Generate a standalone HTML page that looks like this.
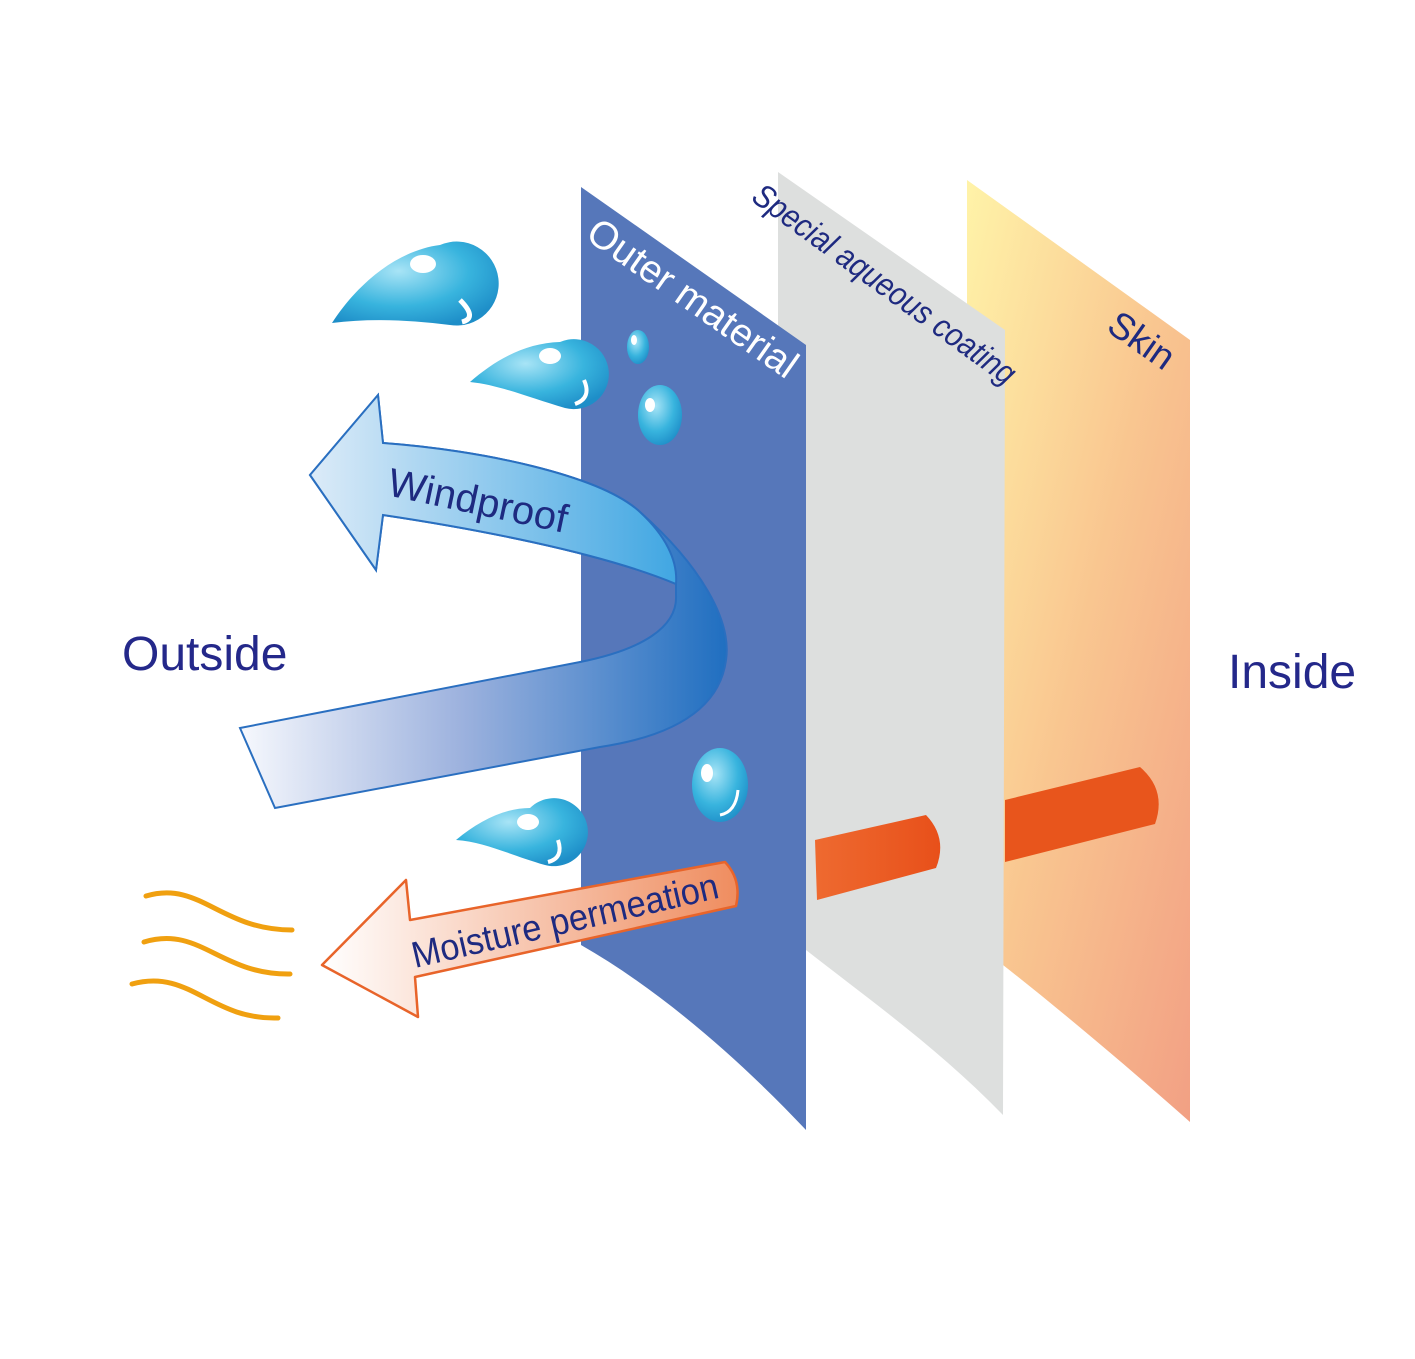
<!DOCTYPE html>
<html><head><meta charset="utf-8"><style>html,body{margin:0;padding:0;background:#fff}svg{display:block}</style></head>
<body>
<svg width="1415" height="1359" viewBox="0 0 1415 1359" xmlns="http://www.w3.org/2000/svg" font-family="Liberation Sans, DejaVu Sans, sans-serif">
<defs>
<linearGradient id="skin" x1="0" y1="0" x2="1" y2="1"><stop offset="0" stop-color="#FFF3A8"/><stop offset="0.5" stop-color="#F9C690"/><stop offset="1" stop-color="#F2A084"/></linearGradient>
<linearGradient id="wind" x1="240" y1="0" x2="730" y2="0" gradientUnits="userSpaceOnUse"><stop offset="0" stop-color="#F6F8FD"/><stop offset="0.45" stop-color="#9DB2DE"/><stop offset="1" stop-color="#1E6EC0"/></linearGradient>
<linearGradient id="windtop" x1="310" y1="0" x2="680" y2="0" gradientUnits="userSpaceOnUse"><stop offset="0" stop-color="#DCEBF8"/><stop offset="1" stop-color="#3FA6E2"/></linearGradient>
<linearGradient id="moist" x1="322" y1="0" x2="740" y2="0" gradientUnits="userSpaceOnUse"><stop offset="0" stop-color="#FFFFFF"/><stop offset="1" stop-color="#EF8C5E"/></linearGradient>
<linearGradient id="bar" x1="0" y1="0" x2="1" y2="0"><stop offset="0" stop-color="#EE6A30"/><stop offset="1" stop-color="#E8501A"/></linearGradient>
<radialGradient id="drop" cx="0.4" cy="0.35" r="0.7"><stop offset="0" stop-color="#A8E4F6"/><stop offset="0.6" stop-color="#38B4DE"/><stop offset="1" stop-color="#1E8EC8"/></radialGradient>
</defs>

<path d="M967,180 L1190,340 L1190,1122 C1120,1060 1060,1010 1003,965 L1003,860 L967,860 Z" fill="url(#skin)"/>
<path d="M778,172 L1005,330 L1003,1115 C940,1050 870,1000 806,950 L806,400 L778,400 Z" fill="#DDDFDE"/>
<path d="M581,187 L806,345 L806,1130 C740,1060 660,990 581,945 Z" fill="#5677BA"/>

<text transform="translate(584,238) rotate(35)" font-size="39" fill="#fff">Outer material</text>
<text transform="translate(750,200) rotate(36) scale(0.88,1)" font-size="33" fill="#1E2A80" font-style="italic">Special aqueous coating</text>
<text transform="translate(1105,330) rotate(35)" font-size="37" fill="#1E2A80">Skin</text>

<path d="M815,840 L926,815 Q948,838 936,868 L817,900 Z" fill="url(#bar)"/>
<path d="M1005,800 L1140,767 Q1167,790 1155,824 L1005,862 Z" fill="#E8551C"/>

<path d="M310,475 L378,395 L383,443 C480,450 600,475 640,512 C700,565 732,620 726,660 C720,705 680,735 600,747 L275,808 L240,728 L580,662 C640,650 678,628 676,595 L676,584 C600,552 470,528 383,515 L376,570 Z" fill="url(#wind)" stroke="#2A6FC0" stroke-width="2"/>
<path d="M310,475 L378,395 L383,443 C480,450 600,475 640,512 C665,535 678,560 676,584 C600,552 470,528 383,515 L376,570 Z" fill="url(#windtop)" stroke="#2A6FC0" stroke-width="2"/>
<text transform="translate(386,495) rotate(12)" font-size="40" fill="#1E2A80">Windproof</text>

<path d="M322,965 L406,880 L410,920 L725,862 Q742,880 736,906 L415,977 L418,1017 Z" fill="url(#moist)" stroke="#E8642A" stroke-width="2.5" stroke-linejoin="round"/>
<text transform="translate(415,968) rotate(-13) scale(0.93,1)" font-size="37" fill="#1E2A80">Moisture permeation</text>

<g>
<path d="M332,323 C360,280 400,250 440,245 A42,42 0 1 1 450,325 C410,320 370,318 332,323 Z" fill="url(#drop)"/>
<ellipse cx="423" cy="264" rx="13" ry="9" fill="#fff"/>
<path d="M460,300 Q478,318 462,322" stroke="#fff" stroke-width="5" fill="none"/>
<path d="M470,382 C495,360 525,343 560,342 A35,35 0 1 1 565,408 C530,398 500,385 470,382 Z" fill="url(#drop)"/>
<ellipse cx="550" cy="356" rx="11" ry="8" fill="#fff"/>
<path d="M584,380 Q592,398 575,404" stroke="#fff" stroke-width="4" fill="none"/>
<path d="M456,840 C480,820 505,808 530,808 A34,34 0 1 1 545,865 C510,855 485,842 456,840 Z" fill="url(#drop)"/>
<ellipse cx="528" cy="822" rx="11" ry="8" fill="#fff"/>
<path d="M558,840 Q564,858 548,862" stroke="#fff" stroke-width="4" fill="none"/>
<ellipse cx="638" cy="347" rx="11" ry="17" fill="url(#drop)"/>
<ellipse cx="634" cy="340" rx="3" ry="5" fill="#fff"/>
<ellipse cx="660" cy="415" rx="22" ry="30" fill="url(#drop)"/>
<ellipse cx="650" cy="405" rx="5" ry="7" fill="#fff"/>
<ellipse cx="720" cy="785" rx="28" ry="37" fill="url(#drop)"/>
<ellipse cx="707" cy="773" rx="6" ry="9" fill="#fff"/>
<path d="M738,790 Q736,812 720,815" stroke="#fff" stroke-width="3" fill="none"/>
</g>

<g fill="none" stroke="#F0A010" stroke-width="5" stroke-linecap="round">
<path d="M146,896 C200,880 220,930 292,930"/>
<path d="M144,942 C200,925 220,975 290,974"/>
<path d="M132,984 C190,968 210,1020 278,1018"/>
</g>

<text x="122" y="670" font-size="48" fill="#24288A">Outside</text>
<text x="1228" y="688" font-size="48" fill="#24288A">Inside</text>
</svg>
</body></html>
